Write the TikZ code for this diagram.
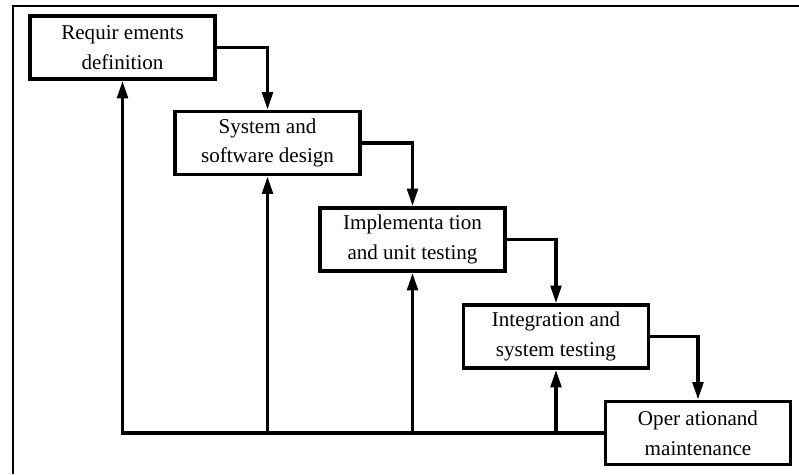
\documentclass[tikz,border=0pt]{standalone}
\usepackage{fontspec}
\setmainfont{Liberation Serif}
\usetikzlibrary{arrows.meta}

\tikzset{
    phase/.style={draw, line width=2pt, minimum width=3.7cm, minimum height=1.26cm,
        align=center, inner sep=2pt, font=\fontsize{12}{17}\selectfont},
    flow/.style={line width=2pt},
}

\begin{document}
\begin{tikzpicture}[x=0.02cm, y=-0.02cm, >={Triangle[length=10pt, width=6pt]}]
    \useasboundingbox (0,0) rectangle (799,474);
    % outer frame (cut off on the right and at the bottom)
    \draw[line width=1pt] (13,474) -- (13,6) -- (799,6);

    \node[phase] (req)    at (122.5,47.5) {Requir ements\\definition};
    \node[phase] (design) at (267.5,143)  {System and\\software design};
    \node[phase] (impl)   at (412.5,239.5) {Implementa tion\\and unit testing};
    \node[phase] (integ)  at (556,336.5)  {Integration and\\system testing};
    \node[phase] (oper)   at (698,433)    {Oper ationand\\maintenance};

    % downward steps
    \draw[flow, ->] (req.east)   -| (design.north);
    \draw[flow, ->] (design.east) -| (impl.north);
    \draw[flow, ->] (impl.east)  -| (integ.north);
    \draw[flow, ->] (integ.east) -| (oper.north);

    % feedback
    \draw[flow, ->] (oper.west) -| (req.south);
    \draw[flow, ->] (design.south |- oper.west) -- (design.south);
    \draw[flow, ->] (impl.south |- oper.west) -- (impl.south);
    \draw[flow, ->] (integ.south |- oper.west) -- (integ.south);
\end{tikzpicture}
\end{document}
